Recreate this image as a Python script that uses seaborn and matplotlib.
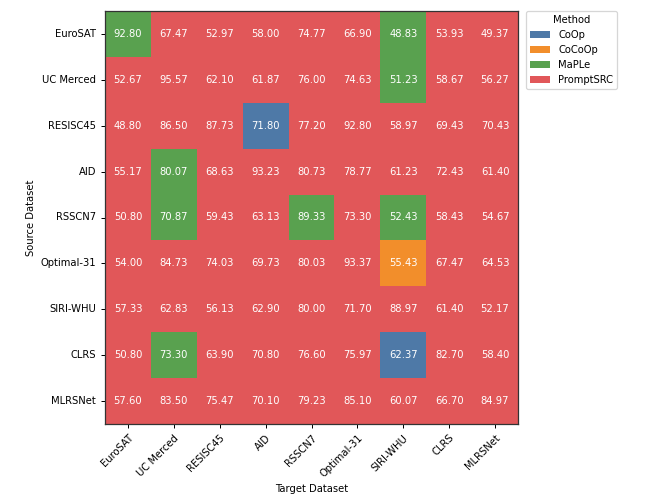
import numpy as np
import pandas as pd
import matplotlib
matplotlib.use("Agg")
import matplotlib.pyplot as plt
import seaborn as sns
from matplotlib.colors import ListedColormap
from matplotlib.patches import Patch

datasets = ["EuroSAT", "UC Merced", "RESISC45", "AID", "RSSCN7",
            "Optimal-31", "SIRI-WHU", "CLRS", "MLRSNet"]
methods = ["CoOp", "CoCoOp", "MaPLe", "PromptSRC"]
method_colors = ["#4e79a7", "#f28e2b", "#59a14f", "#e15759"]

# best accuracy per (source, target)
best_acc = [
    [92.80, 67.47, 52.97, 58.00, 74.77, 66.90, 48.83, 53.93, 49.37],
    [52.67, 95.57, 62.10, 61.87, 76.00, 74.63, 51.23, 58.67, 56.27],
    [48.80, 86.50, 87.73, 71.80, 77.20, 92.80, 58.97, 69.43, 70.43],
    [55.17, 80.07, 68.63, 93.23, 80.73, 78.77, 61.23, 72.43, 61.40],
    [50.80, 70.87, 59.43, 63.13, 89.33, 73.30, 52.43, 58.43, 54.67],
    [54.00, 84.73, 74.03, 69.73, 80.03, 93.37, 55.43, 67.47, 64.53],
    [57.33, 62.83, 56.13, 62.90, 80.00, 71.70, 88.97, 61.40, 52.17],
    [50.80, 73.30, 63.90, 70.80, 76.60, 75.97, 62.37, 82.70, 58.40],
    [57.60, 83.50, 75.47, 70.10, 79.23, 85.10, 60.07, 66.70, 84.97],
]

# which method won each cell (index into methods)
best_method = [
    [2, 3, 3, 3, 3, 3, 2, 3, 3],
    [3, 3, 3, 3, 3, 3, 2, 3, 3],
    [3, 3, 3, 0, 3, 3, 3, 3, 3],
    [3, 2, 3, 3, 3, 3, 3, 3, 3],
    [3, 2, 3, 3, 2, 3, 2, 3, 3],
    [3, 3, 3, 3, 3, 3, 1, 3, 3],
    [3, 3, 3, 3, 3, 3, 3, 3, 3],
    [3, 2, 3, 3, 3, 3, 0, 3, 3],
    [3, 3, 3, 3, 3, 3, 3, 3, 3],
]

acc_df = pd.DataFrame(best_acc, index=datasets, columns=datasets)
meth_df = pd.DataFrame(best_method, index=datasets, columns=datasets)

DPI = 90
fig = plt.figure(figsize=(646 / DPI, 503 / DPI), dpi=DPI)
ax = fig.add_axes([105 / 646, 1 - 424 / 503, 413 / 646, 413 / 503])

sns.heatmap(meth_df, annot=acc_df, fmt=".2f", cmap=ListedColormap(method_colors),
            vmin=-0.5, vmax=3.5, cbar=False, ax=ax,
            annot_kws={"color": "white", "fontsize": 8})

for s in ax.spines.values():
    s.set_visible(True)
    s.set_color("#333333")
    s.set_linewidth(1.0)

ax.set_xticklabels(datasets, rotation=45, ha="right", rotation_mode="anchor", fontsize=8)
ax.set_yticklabels(datasets, rotation=0, fontsize=8)
ax.set_xlabel("Target Dataset", fontsize=8)
ax.set_ylabel("Source Dataset", fontsize=8)

handles = [Patch(facecolor=c, label=m) for m, c in zip(methods, method_colors)]
ax.legend(handles=handles, title="Method", loc="upper left", bbox_to_anchor=(1.02, 1.0),
          fontsize=8, title_fontsize=8, borderaxespad=0)

fig.savefig("out.png", dpi=DPI)
